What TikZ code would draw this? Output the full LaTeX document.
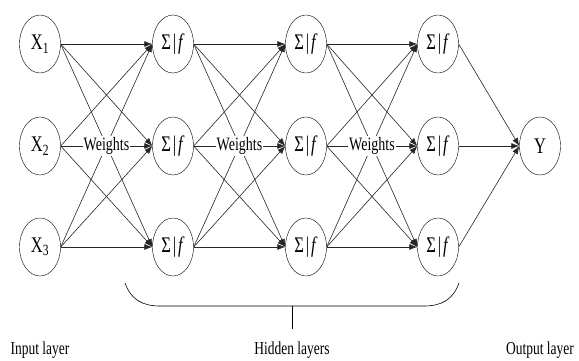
\documentclass[tikz,border=0pt]{standalone}
\usepackage{graphicx}
\usepackage{fontspec}
\setmainfont{Liberation Serif}
\usetikzlibrary{shapes.geometric,arrows.meta}
% stretched serif text, neuron label
\newcommand{\tall}[1]{\scalebox{1}[1.35]{#1}}
\newcommand{\sumf}{\tall{Σ\kern2pt|\kern2pt\textit{f}}}
% every node of one layer to every node of the next
\newcommand{\connectLayers}[2]{%
    \foreach \i in {1,2,3} {
        \foreach \j in {1,2,3} {
            \draw[wire] (#1\i.east) -- (#2\j.west);
        }
    }
}

\begin{document}
\begin{tikzpicture}[x=1pt,y=-1pt,
    neuron/.style={draw,ellipse,minimum width=41pt,minimum height=58pt,inner sep=0pt,fill=white,font=\fontsize{16.5}{19}\selectfont},
    wire/.style={-{Latex[length=8pt,width=6pt]},line width=0.6pt,black!85},
    weight/.style={fill=white,inner sep=1pt,font=\fontsize{14}{16}\selectfont},
    caption/.style={font=\fontsize{13.5}{16}\selectfont}]
\useasboundingbox (0,0) rectangle (579,360);

\foreach \r [count=\i] in {44,146,247} {
    \node[neuron] (in\i) at (40,\r) {\tall{X\textsubscript{\i}}};
    \node[neuron] (ha\i) at (173,\r) {\sumf};
    \node[neuron] (hb\i) at (306,\r) {\sumf};
    \node[neuron] (hc\i) at (438,\r) {\sumf};
}
\node[neuron] (y) at (540,146) {\tall{Y}};

\connectLayers{in}{ha}
\connectLayers{ha}{hb}
\connectLayers{hb}{hc}
\foreach \i in {1,2,3} {
    \draw[wire] (hc\i.east) -- (y.west);
}

% labels on the middle row
\path (in2.east) -- node[weight] {\tall{Weights}} (ha2.west);
\path (ha2.east) -- node[weight] {\tall{Weights}} (hb2.west);
\path (hb2.east) -- node[weight] {\tall{Weights}} (hc2.west);

% bracket under the hidden layers
\draw[line width=0.6pt] (125,283) .. controls (131,300) and (143,306) .. (160,306)
    -- (424,306) .. controls (441,306) and (453,300) .. (459,283);
\draw[line width=0.6pt] (292,306) -- (292,329);

\node[caption] (inlabel) at (40,350) {\tall{Input layer}};
\node[caption] (hidlabel) at (292,350) {\tall{Hidden layers}};
\node[caption] (outlabel) at (540,350) {\tall{Output layer}};
\end{tikzpicture}
\end{document}
